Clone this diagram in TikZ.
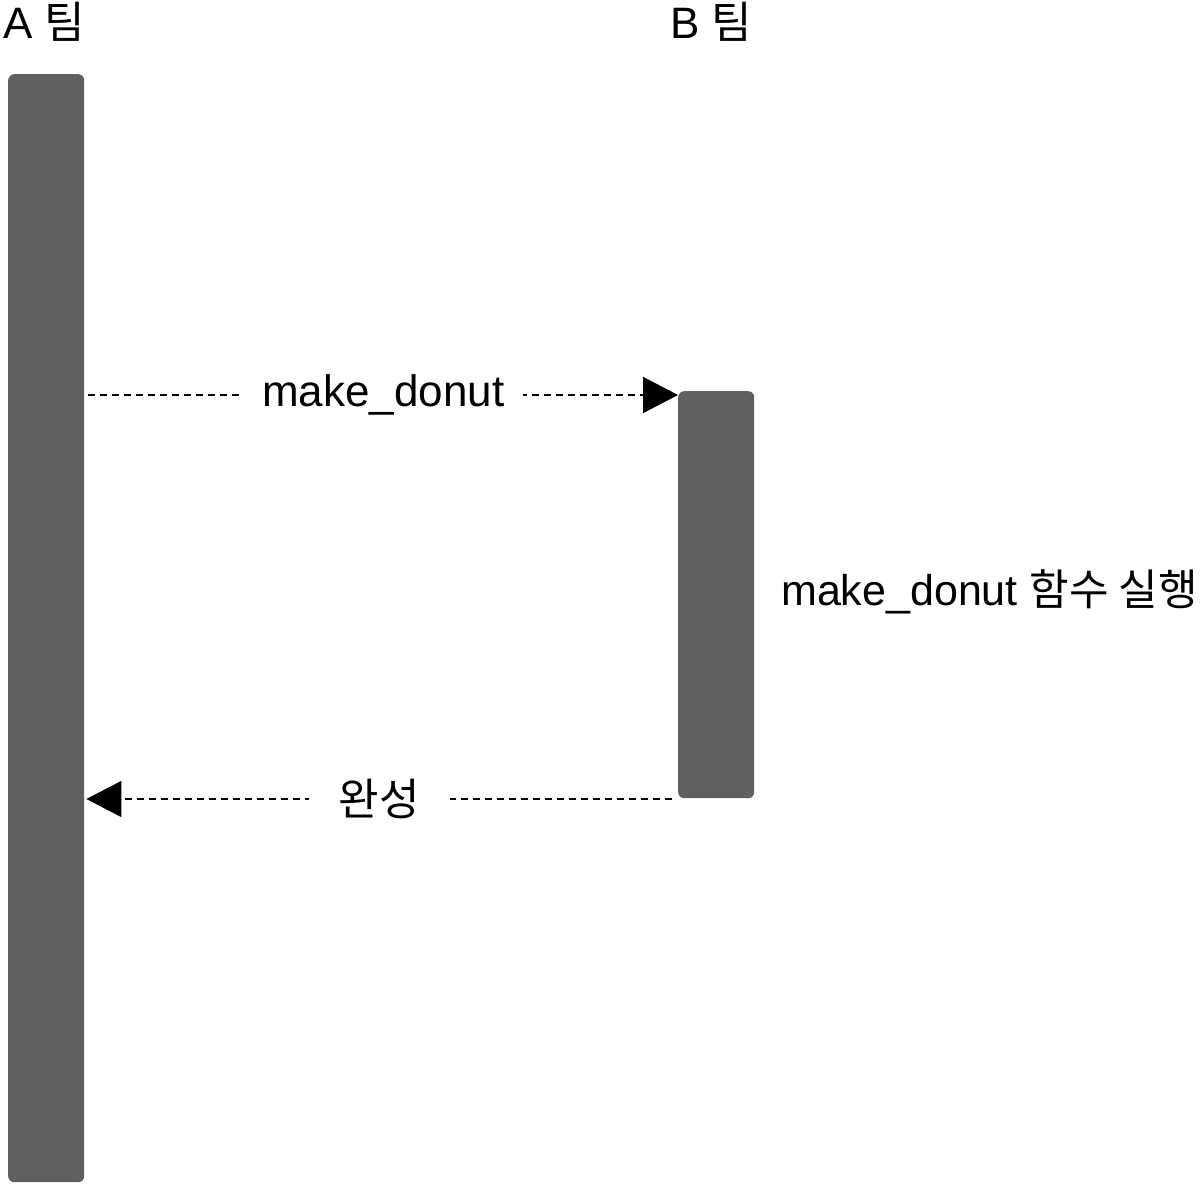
\documentclass[tikz,border=0pt]{standalone}
\usepackage{fontspec}
\setmainfont{Liberation Sans}
\newfontfamily\kr{Noto Sans CJK KR}
\usetikzlibrary{arrows.meta}
\definecolor{bargray}{HTML}{606060}
\tikzset{
  bar/.style={fill=bargray, draw=none, rounded corners=6pt, inner sep=0pt},
  msg/.style={dash pattern=on 7pt off 5pt, line width=1.6pt, -{Triangle[length=35pt,width=36pt]}},
  lbl/.style={font=\fontsize{44}{52}\selectfont, fill=white, inner xsep=19pt, inner ysep=2pt},
  title/.style={font=\fontsize{44}{52}\selectfont, inner sep=0pt},
}
\begin{document}
\begin{tikzpicture}[x=1pt,y=-1pt]
\useasboundingbox (0,0) rectangle (1200,1184);
\node[bar, minimum width=76pt, minimum height=1108pt, anchor=north west] (A) at (8,74) {};
\node[bar, minimum width=76pt, minimum height=407pt, anchor=north west] (B) at (678,391) {};
\node[title, anchor=base west] (ta) at (3,38) {A {\kr 팀}};
\node[title, anchor=base west] (tb) at (670,38) {B {\kr 팀}};
\coordinate (s1) at ([xshift=4pt]A.east |- 0,395);
\coordinate (e1) at (B.west |- 0,395);
\draw[msg] (s1) -- (e1) node[lbl, midway] (l1) {make\_donut};
\coordinate (s2) at ([xshift=-6pt]B.west |- 0,799);
\coordinate (e2) at ([xshift=2pt]A.east |- 0,799);
\draw[msg] (s2) -- (e2) node[lbl, midway, inner xsep=30pt] (l2) {\kr 완성};
\node[title, anchor=west, font=\fontsize{43}{50}\selectfont] (lb) at (781,592) {make\_donut {\kr 함수 실행}};
\end{tikzpicture}
\end{document}
